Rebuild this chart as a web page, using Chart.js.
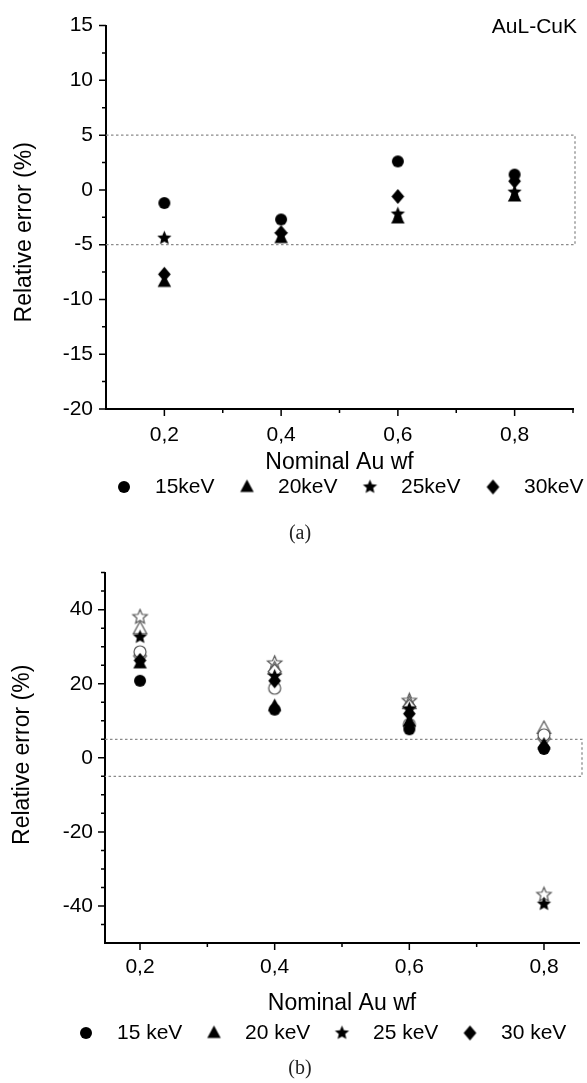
<!DOCTYPE html>
<html>
<head>
<meta charset="utf-8">
<script src="https://cdn.jsdelivr.net/npm/chart.js@4.4.0/dist/chart.umd.min.js"></script>
<style>
html, body { margin: 0; padding: 0; background: #fff; }
body { width: 587px; height: 1083px; position: relative; overflow: hidden; }
canvas { position: absolute; left: 0; }
#chartA { top: 0; }
#chartB { top: 548px; }
.cap { position: absolute; left: 0; width: 600px; text-align: center; line-height: 24px;
       font-family: "Liberation Serif", "Times New Roman", serif; font-size: 20px; color: #222; }
</style>
</head>
<body>
<canvas id="chartA" width="587" height="548"></canvas>
<div class="cap" style="top:520px">(a)</div>
<canvas id="chartB" width="587" height="535"></canvas>
<div class="cap" style="top:1055px">(b)</div>
<script>
const FONT = '"Liberation Sans", Arial, sans-serif';

// nominal Au weight fraction (x)
const auWf = [0.2, 0.4, 0.6, 0.8];

// (a) AuL-CuK, relative error (%)
const a15keV = [-1.2, -2.7, 2.6, 1.4];
const a20keV = [-8.4, -4.4, -2.6, -0.6];
const a25keV = [-4.4, -4.1, -2.2, -0.2];
const a30keV = [-7.7, -3.9, -0.6, 0.8];
const aLegend = ['15keV', '20keV', '25keV', '30keV'];
const aXTicks = [0.2, 0.3, 0.4, 0.5, 0.6, 0.7, 0.8, 0.9];
const aXLabels = [0.2, 0.4, 0.6, 0.8];
const aYTicks = [-20, -17.5, -15, -12.5, -10, -7.5, -5, -2.5, 0, 2.5, 5, 7.5, 10, 12.5, 15];
const aYLabels = [-20, -15, -10, -5, 0, 5, 10, 15];

// (b) filled and open symbols
const b15keV = [20.8, 13.0, 7.7, 2.4];
const b20keV = [25.5, 14.0, 9.8, 3.6];
const b25keV = [32.6, 22.0, 13.2, -39.5];
const b30keV = [26.3, 20.8, 11.9, 2.8];
const b15keVOpen = [28.6, 18.8, 9.0, 6.2];
const b20keVOpen = [34.8, 24.0, 14.6, 7.9];
const b25keVOpen = [38.0, 25.5, 15.4, -37.0];
const b30keVOpen = [27.5, 23.3, 13.8, 5.2];
const bLegend = ['15 keV', '20 keV', '25 keV', '30 keV'];
const bXTicks = [0.2, 0.3, 0.4, 0.5, 0.6, 0.7, 0.8];
const bXLabels = [0.2, 0.4, 0.6, 0.8];
const bYTicks = [-45, -40, -35, -30, -25, -20, -15, -10, -5, 0, 5, 10, 15, 20, 25, 30, 35, 40, 45, 50];
const bYLabels = [-40, -20, 0, 20, 40];

// +-5 % tolerance band
const band = [-5, 5];

function makeMarker(shape, r, filled) {
    const s = Math.ceil(r * 2 + 4);
    const c = document.createElement('canvas');
    c.width = s; c.height = s;
    const g = c.getContext('2d');
    g.translate(s / 2, s / 2);
    g.beginPath();
    if (shape === 'circle') {
        g.arc(0, 0, r, 0, Math.PI * 2);
    } else if (shape === 'triangle') {
        g.moveTo(0, -r); g.lineTo(r * 0.9, r * 0.65); g.lineTo(-r * 0.9, r * 0.65); g.closePath();
    } else if (shape === 'diamond') {
        g.moveTo(0, -r); g.lineTo(r * 0.85, 0); g.lineTo(0, r); g.lineTo(-r * 0.85, 0); g.closePath();
    } else {
        for (let i = 0; i < 10; i++) {
            const ang = -Math.PI / 2 + i * Math.PI / 5;
            const rr = i % 2 ? r * 0.45 : r;
            g.lineTo(rr * Math.cos(ang), rr * Math.sin(ang));
        }
        g.closePath();
    }
    if (filled) {
        g.fillStyle = '#000'; g.fill();
    } else {
        g.fillStyle = '#fff'; g.fill();
        g.strokeStyle = '#555'; g.lineWidth = 1.2; g.stroke();
    }
    return c;
}

const mCircle = makeMarker('circle', 6, true);
const mTriangle = makeMarker('triangle', 7.5, true);
const mStar = makeMarker('star', 7.5, true);
const mDiamond = makeMarker('diamond', 7.5, true);
const oCircle = makeMarker('circle', 6, false);
const oTriangle = makeMarker('triangle', 7.5, false);
const oStar = makeMarker('star', 7.5, false);
const oDiamond = makeMarker('diamond', 7.5, false);
const legendMarkers = [mCircle, mTriangle, mStar, mDiamond];

function dataset(label, ys, marker) {
    return {
        label: label,
        data: auWf.map((x, i) => ({ x: x, y: ys[i] })),
        pointStyle: marker,
        pointRadius: 7,
        pointHoverRadius: 7,
        showLine: false
    };
}

function makeDecor(cfg) {
    return {
        id: 'decor',
        beforeDatasetsDraw(chart) {
            const { ctx, chartArea: ca, scales: { y } } = chart;
            const yTop = y.getPixelForValue(band[1]);
            const yBot = y.getPixelForValue(band[0]);
            const xr = ca.right + cfg.bandOverhang;
            ctx.save();
            ctx.strokeStyle = '#8a8a8a';
            ctx.lineWidth = 1.3;
            ctx.setLineDash([2.5, 2.5]);
            ctx.beginPath();
            ctx.moveTo(ca.left, yTop); ctx.lineTo(xr, yTop);
            ctx.lineTo(xr, yBot); ctx.lineTo(ca.left, yBot);
            ctx.stroke();
            ctx.restore();
        },
        afterDraw(chart) {
            const { ctx, chartArea: ca, scales: { x, y } } = chart;
            ctx.save();
            // major / minor tick marks
            ctx.strokeStyle = '#000';
            ctx.lineWidth = 1.5;
            ctx.beginPath();
            y.ticks.forEach(t => {
                const p = y.getPixelForValue(t.value);
                const len = cfg.yLabels.includes(t.value) ? 7 : 4;
                ctx.moveTo(ca.left - len, p); ctx.lineTo(ca.left, p);
            });
            x.ticks.forEach(t => {
                const p = x.getPixelForValue(t.value);
                const len = cfg.xLabels.includes(t.value) ? 7 : 4;
                ctx.moveTo(p, ca.bottom); ctx.lineTo(p, ca.bottom + len);
            });
            ctx.stroke();

            ctx.fillStyle = '#000';
            ctx.font = '23px ' + FONT;
            ctx.textAlign = 'center';
            ctx.textBaseline = 'middle';
            ctx.fillText('Nominal Au wf', (ca.left + ca.right) / 2, cfg.xTitleY);
            ctx.save();
            ctx.translate(cfg.yTitleX, (ca.top + ca.bottom) / 2 + cfg.yTitleShift);
            ctx.rotate(-Math.PI / 2);
            ctx.fillText('Relative error (%)', 0, 0);
            ctx.restore();

            // legend
            ctx.font = '21px ' + FONT;
            ctx.textAlign = 'left';
            cfg.legend.forEach((lab, i) => {
                const mx = cfg.legendX + i * cfg.legendPitch;
                const m = legendMarkers[i];
                ctx.drawImage(m, mx - m.width / 2, cfg.legendY - m.height / 2);
                ctx.fillText(lab, mx + cfg.legendGap, cfg.legendY);
            });

            if (cfg.tag) {
                ctx.textAlign = 'right';
                ctx.fillText(cfg.tag, cfg.tagX, cfg.tagY);
            }
            ctx.restore();
        }
    };
}

function makeChart(id, datasets, cfg) {
    const tickFont = { family: FONT, size: 21 };
    return new Chart(document.getElementById(id), {
        type: 'scatter',
        data: { datasets: datasets },
        options: {
            responsive: false,
            animation: false,
            devicePixelRatio: 1,
            layout: { padding: { top: cfg.padTop, right: cfg.padRight, left: 0, bottom: 0 } },
            plugins: { legend: { display: false }, tooltip: { enabled: false } },
            scales: {
                x: {
                    type: 'linear', min: cfg.xMin, max: cfg.xMax,
                    grid: { display: false, drawTicks: false },
                    border: { display: true, color: '#000', width: 2 },
                    afterBuildTicks: s => { s.ticks = cfg.xTicks.map(v => ({ value: v })); },
                    afterFit: s => { s.height = cfg.xHeight; },
                    ticks: {
                        autoSkip: false, maxRotation: 0, padding: cfg.xPad, color: '#000', font: tickFont,
                        callback: v => cfg.xLabels.includes(v) ? v.toFixed(1).replace('.', ',') : ''
                    }
                },
                y: {
                    type: 'linear', min: cfg.yMin, max: cfg.yMax,
                    grid: { display: false, drawTicks: false },
                    border: { display: true, color: '#000', width: 2 },
                    afterBuildTicks: s => { s.ticks = cfg.yTicks.map(v => ({ value: v })); },
                    afterFit: s => { s.width = cfg.yWidth; },
                    ticks: {
                        autoSkip: false, padding: cfg.yPad, color: '#000', font: tickFont,
                        callback: v => cfg.yLabels.includes(v) ? String(v) : ''
                    }
                }
            }
        },
        plugins: [makeDecor(cfg)]
    });
}

makeChart('chartA', [
    dataset('15keV', a15keV, mCircle),
    dataset('25keV', a25keV, mStar),
    dataset('30keV', a30keV, mDiamond),
    dataset('20keV', a20keV, mTriangle)
], {
    xMin: 0.1, xMax: 0.9, yMin: -20, yMax: 15,
    xTicks: aXTicks, xLabels: aXLabels, yTicks: aYTicks, yLabels: aYLabels,
    padTop: 24, padRight: 3, xHeight: 139, yWidth: 106, xPad: 14, yPad: 13,
    bandOverhang: 2,
    xTitleY: 463, yTitleX: 25, yTitleShift: 15,
    legend: aLegend, legendX: 124, legendPitch: 123, legendGap: 31, legendY: 487,
    tag: 'AuL-CuK', tagX: 577, tagY: 27
});

makeChart('chartB', [
    dataset('15 keV', b15keV, mCircle),
    dataset('20 keV', b20keV, mTriangle),
    dataset('30 keV', b30keV, mDiamond),
    dataset('25 keV', b25keV, mStar),
    dataset('15 keV open', b15keVOpen, oCircle),
    dataset('30 keV open', b30keVOpen, oDiamond),
    dataset('20 keV open', b20keVOpen, oTriangle),
    dataset('25 keV open', b25keVOpen, oStar)
], {
    xMin: 0.148, xMax: 0.852, yMin: -50, yMax: 50,
    xTicks: bXTicks, xLabels: bXLabels, yTicks: bYTicks, yLabels: bYLabels,
    padTop: 13, padRight: 7, xHeight: 140, yWidth: 105, xPad: 12, yPad: 12,
    bandOverhang: 3,
    xTitleY: 456, yTitleX: 23, yTitleShift: -3,
    legend: bLegend, legendX: 86, legendPitch: 128, legendGap: 31, legendY: 485,
    tag: ''
});
</script>
</body>
</html>
